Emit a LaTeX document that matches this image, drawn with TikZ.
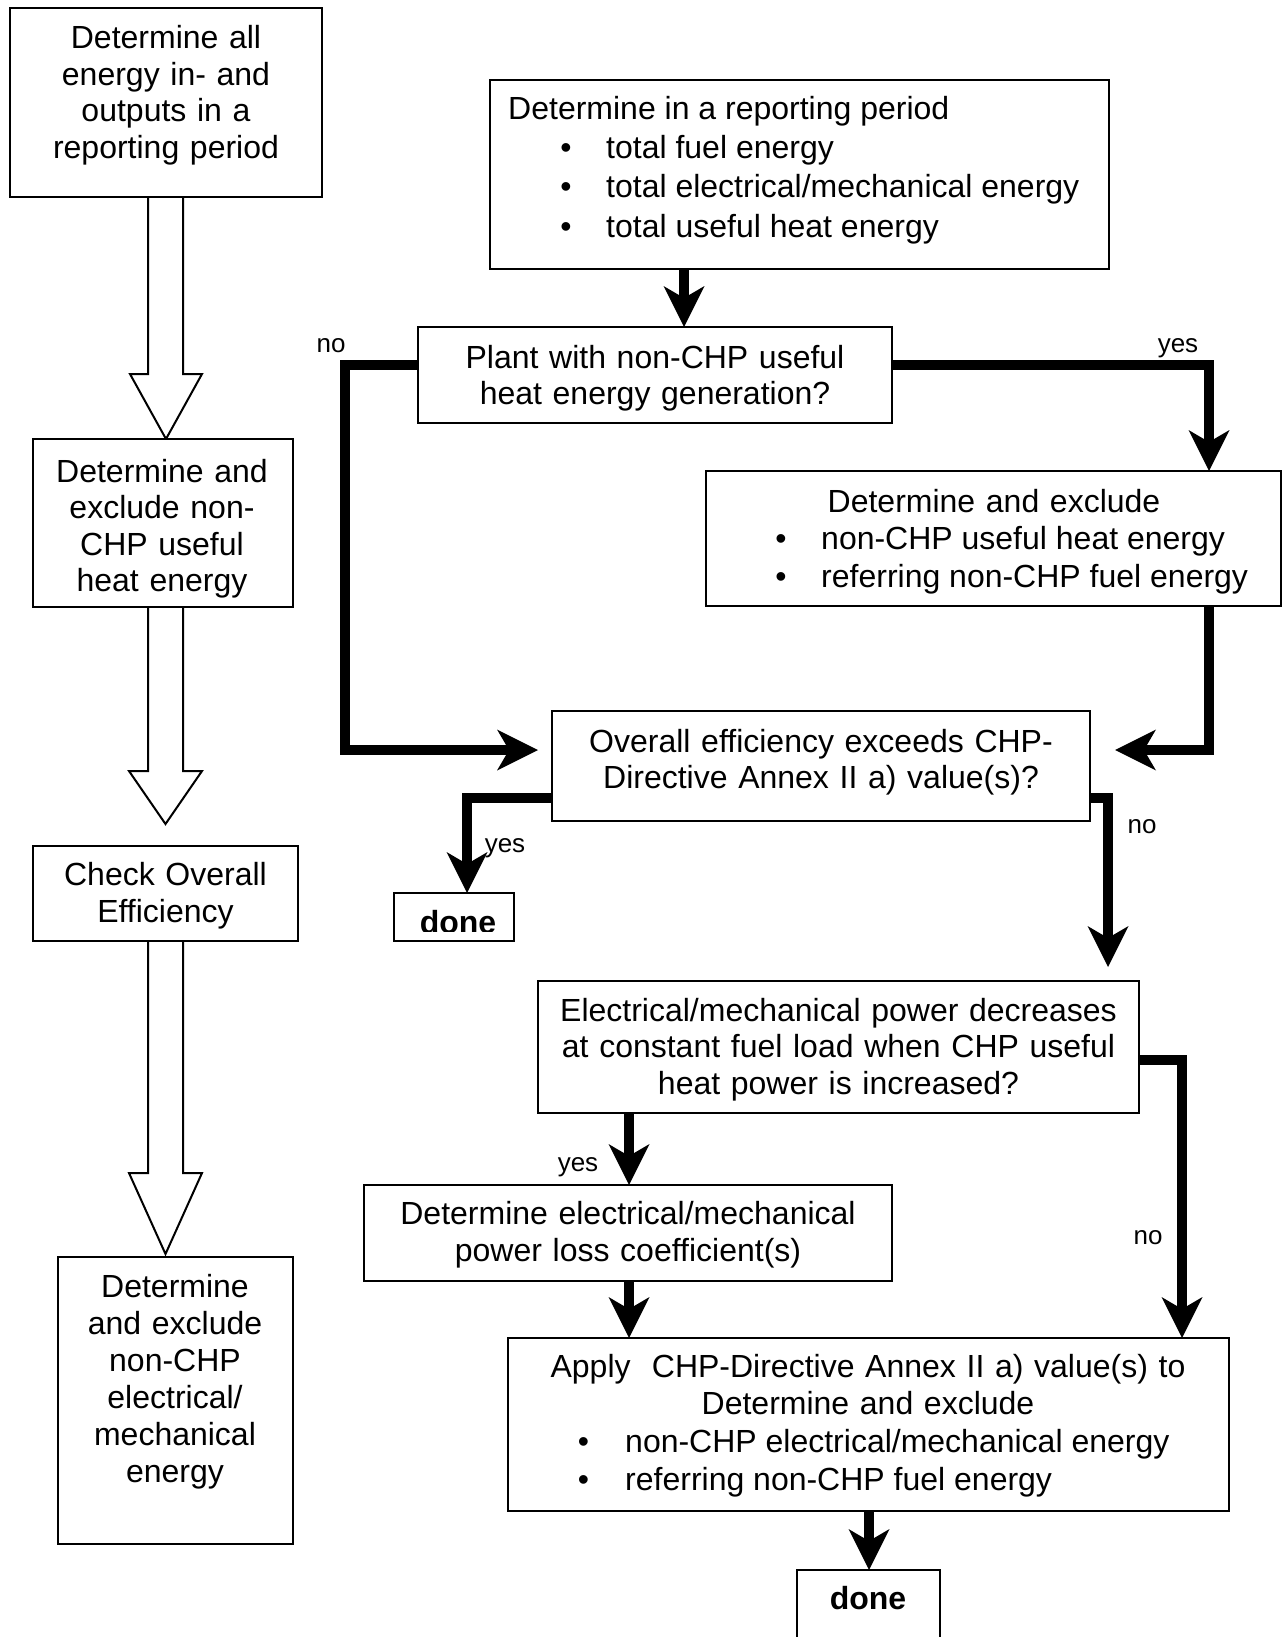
\documentclass[tikz,border=0pt]{standalone}
\usepackage{fontspec}
\setmainfont{Liberation Sans}
\usetikzlibrary{arrows.meta}
\tikzset{
  box/.style={draw, line width=2pt, fill=white, anchor=north west, inner sep=0pt, outer sep=0pt},
  hollow/.style={draw, line width=2pt, fill=white, line join=miter},
  conn/.style={line width=10pt, line join=miter, -{Stealth[length=41pt,width=41pt,inset=12pt,line width=0pt]}},
  ctxt/.style={inner sep=0pt, align=center, anchor=base, text width=#1, font=\fontsize{32}{37}\selectfont},
  ctxt/.default=400pt,
  ltxt/.style={inner sep=0pt, anchor=base west, font=\fontsize{32}{37}\selectfont},
  bul/.style={inner sep=0pt, anchor=base, font=\fontsize{32}{37}\selectfont},
  lbl/.style={inner sep=0pt, anchor=base, font=\fontsize{26}{30}\selectfont},
  donetxt/.style={inner sep=0pt, anchor=base, font=\fontsize{32}{37}\selectfont\bfseries},
}
\begin{document}
\begin{tikzpicture}[x=1pt,y=-1pt]
\clip (0,0) rectangle (1283,1637);
\fill[white] (0,0) rectangle (1283,1637);

% ---------- left column hollow arrows (drawn first) ----------
\draw[hollow] (148,197) -- (148,374) -- (130,374) -- (166,439) -- (202,374) -- (183,374) -- (183,197);
\draw[hollow] (148,607) -- (148,771) -- (129,771) -- (165.5,824) -- (202,771) -- (183,771) -- (183,607);
\draw[hollow] (148,941) -- (148,1173) -- (129,1173) -- (165.5,1254) -- (202,1173) -- (183,1173) -- (183,941);

% ---------- left column boxes ----------
\node[box, minimum width=312.5pt, minimum height=189pt] (b1) at (9.5,8) {};
\node[box, minimum width=260pt, minimum height=168pt] (b2) at (33,439) {};
\node[box, minimum width=265pt, minimum height=95pt] (b3) at (33,846) {};
\node[box, minimum width=235pt, minimum height=287pt] (b4) at (58,1257) {};

\node[ctxt=300pt, font=\fontsize{32}{36.5}\selectfont] (t1) at (166,49) {Determine all\\energy in- and\\outputs in a\\reporting period};
\node[ctxt=250pt, font=\fontsize{32}{36.3}\selectfont] (t2) at (162,482.5) {Determine and\\exclude non-\\CHP useful\\heat energy};
\node[ctxt=260pt, font=\fontsize{32}{37}\selectfont] (t3) at (165.5,885.5) {Check Overall\\Efficiency};
\node[ctxt=230pt, font=\fontsize{32}{37}\selectfont] (t4) at (175,1297) {Determine\\and exclude\\non-CHP\\electrical/\\mechanical\\energy};

% ---------- right column boxes ----------
\node[box, minimum width=619pt, minimum height=189pt] (A) at (490,80) {};
\node[box, minimum width=474pt, minimum height=96pt] (B) at (418,327) {};
\node[box, minimum width=575pt, minimum height=135pt] (C) at (706,471) {};
\node[box, minimum width=538pt, minimum height=110pt] (D) at (552,711) {};
\node[box, minimum width=120pt, minimum height=48pt] (done1) at (394,893) {};
\node[box, minimum width=601pt, minimum height=132pt] (E) at (538,981) {};
\node[box, minimum width=528pt, minimum height=96pt] (F) at (364,1185) {};
\node[box, minimum width=721pt, minimum height=173pt] (G) at (508,1338) {};
\node[box, minimum width=143pt, minimum height=100pt] (done2) at (797,1570) {};

% box A text
\node[ltxt] (tA0) at (508,120) {Determine in a reporting period};
\node[bul] (tA1b) at (566,159) {•};
\node[ltxt] (tA1) at (606,159) {total fuel energy};
\node[bul] (tA2b) at (566,198) {•};
\node[ltxt] (tA2) at (606,198) {total electrical/mechanical energy};
\node[bul] (tA3b) at (566,237) {•};
\node[ltxt] (tA3) at (606,237) {total useful heat energy};

% box B text
\node[ctxt=470pt, font=\fontsize{32}{36}\selectfont] (tB) at (655,368) {Plant with non-CHP useful\\heat energy generation?};

% box C text
\node[ctxt=560pt] (tC0) at (994,512) {Determine and exclude};
\node[bul] (tC1b) at (781,549) {•};
\node[ltxt] (tC1) at (821,549) {non-CHP useful heat energy};
\node[bul] (tC2b) at (781,587) {•};
\node[ltxt] (tC2) at (821,587) {referring non-CHP fuel energy};

% box D text
\node[ctxt=530pt, font=\fontsize{32}{36}\selectfont] (tD) at (821,752) {Overall efficiency exceeds CHP-\\Directive Annex II a) value(s)?};

% done 1 (text clipped at bottom)
\begin{scope}
\clip (395,894) rectangle (513,931.5);
\node[donetxt] (tdone1) at (458,933.5) {done};
\end{scope}

% box E text
\node[ctxt=590pt, font=\fontsize{32}{36.5}\selectfont] (tE) at (838.5,1021) {Electrical/mechanical power decreases\\at constant fuel load when CHP useful\\heat power is increased?};

% box F text
\node[ctxt=520pt, font=\fontsize{32}{37}\selectfont] (tF) at (628,1224) {Determine electrical/mechanical\\power loss coefficient(s)};

% box G text
\node[ctxt=700pt, font=\fontsize{32}{36.5}\selectfont] (tG0) at (868,1377.5) {Apply\ \ CHP-Directive Annex II a) value(s) to\\Determine and exclude};
\node[bul] (tG1b) at (583.5,1452) {•};
\node[ltxt] (tG1) at (625,1452) {non-CHP electrical/mechanical energy};
\node[bul] (tG2b) at (583.5,1490) {•};
\node[ltxt] (tG2) at (625,1490) {referring non-CHP fuel energy};

% done 2
\node[donetxt] (tdone2) at (868,1609) {done};

% ---------- connector coordinates ----------
\coordinate (xAB) at (684,0);
\coordinate (pBn1) at (345,365);
\coordinate (pBn2) at (345,750);
\coordinate (pBnEnd) at (538,750);
\coordinate (pBy1) at (1209,365);
\coordinate (pC1) at (1209,750);
\coordinate (pCEnd) at (1115,750);
\coordinate (pDy1) at (467,797.5);
\coordinate (pDn1) at (1108,798);
\coordinate (pDnEnd) at (1108,967);
\coordinate (xEF) at (629,0);
\coordinate (pEn1) at (1182,1060);
\coordinate (xGd) at (869,0);

% ---------- connectors ----------
\draw[conn] (xAB |- A.south) -- (xAB |- B.north);
\draw[conn] (B.west |- pBn1) -- (pBn1) -- (pBn2) -- (pBnEnd);
\draw[conn] (B.east |- pBy1) -- (pBy1) -- (pBy1 |- C.north);
\draw[conn] (pBy1 |- C.south) -- (pC1) -- (pCEnd);
\draw[conn] (D.west |- pDy1) -- (pDy1) -- (pDy1 |- done1.north);
\draw[conn] (D.east |- pDn1) -- (pDn1) -- (pDnEnd);
\draw[conn] (xEF |- E.south) -- (xEF |- F.north);
\draw[conn] (E.east |- pEn1) -- (pEn1) -- (pEn1 |- G.north);
\draw[conn] (xEF |- F.south) -- (xEF |- G.north);
\draw[conn] (xGd |- G.south) -- (xGd |- done2.north);

% ---------- labels ----------
\node[lbl] (lBno) at (331,352) {no};
\node[lbl] (lByes) at (1178,352) {yes};
\node[lbl] (lDyes) at (505,852) {yes};
\node[lbl] (lDno) at (1142,833) {no};
\node[lbl] (lEyes) at (578,1171) {yes};
\node[lbl] (lEno) at (1148,1244) {no};
\end{tikzpicture}
\end{document}
